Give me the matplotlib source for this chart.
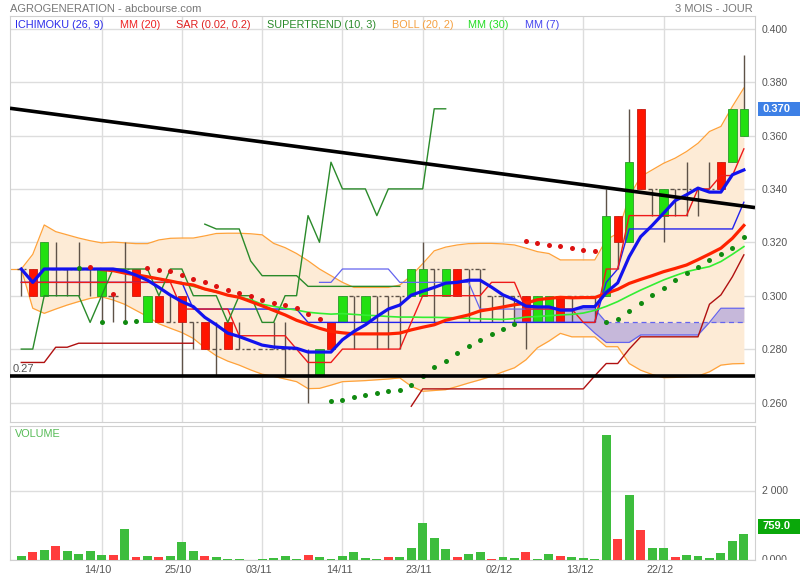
import numpy as np
import matplotlib
matplotlib.use('Agg')
import matplotlib.pyplot as plt
from matplotlib.patches import Rectangle
from matplotlib.transforms import blended_transform_factory, Bbox, TransformedBbox

plt.rcParams['font.family'] = ['Liberation Sans', 'DejaVu Sans']

# ---- values (64 daily bars) ----
x_labels = ['14/10', '25/10', '03/11', '14/11', '23/11', '02/12', '13/12', '22/12']
x_label_bars = [7, 14, 21, 28, 35, 42, 49, 56]
price_ticks = [0.26, 0.28, 0.30, 0.32, 0.34, 0.36, 0.38, 0.40]
volume_ticks = [0, 2000]
volume_tick_labels = ['0.000', '2 000']

opens = [.31, .31, .30, .31, .31, .31, .31, .30, .30, .31, .31, .29, .30, .29, .30, .29, .29, .28, .29, .28,
         .28, .28, .28, .28, .28, .27, .27, .29, .29, .30, .29, .30, .30, .30, .30, .30, .31, .30, .31, .31,
         .31, .30, .30, .30, .30, .29, .29, .30, .30, .30, .30, .30, .33, .32, .37, .34, .33, .34, .34, .34,
         .34, .35, .35, .36]
highs = [.31, .31, .32, .32, .31, .32, .31, .31, .30, .32, .31, .30, .30, .30, .30, .29, .29, .29, .29, .29,
         .28, .28, .29, .29, .28, .28, .28, .29, .30, .30, .30, .30, .30, .30, .31, .32, .31, .31, .31, .31,
         .31, .30, .30, .30, .30, .30, .30, .30, .30, .30, .30, .34, .33, .37, .37, .34, .34, .34, .35, .34,
         .35, .35, .37, .39]
lows = [.30, .30, .30, .30, .30, .30, .30, .29, .29, .29, .30, .29, .29, .29, .27, .28, .28, .27, .28, .28,
        .28, .28, .28, .27, .28, .26, .27, .28, .29, .28, .29, .28, .28, .28, .30, .30, .29, .30, .30, .29,
        .29, .29, .29, .29, .28, .29, .29, .29, .29, .30, .29, .30, .31, .32, .34, .33, .32, .33, .33, .33,
        .34, .34, .35, .36]
closes = [.31, .30, .32, .31, .31, .31, .31, .31, .30, .31, .30, .30, .29, .29, .29, .29, .28, .28, .28, .28,
          .28, .28, .28, .28, .28, .27, .28, .28, .30, .30, .30, .30, .30, .30, .31, .31, .31, .31, .30, .31,
          .31, .30, .30, .30, .29, .30, .30, .29, .30, .30, .30, .33, .32, .35, .34, .34, .34, .34, .34, .34,
          .34, .34, .37, .37]

volumes = [116, 242, 290, 406, 261, 174, 251, 145, 145, 899, 87, 106, 87, 116, 522, 261, 126, 97, 29, 29,
           10, 29, 68, 116, 39, 135, 97, 15, 126, 232, 48, 29, 87, 77, 348, 1064, 638, 319, 87, 174,
           242, 29, 87, 58, 232, 29, 184, 116, 77, 58, 39, 3626, 609, 1886, 870, 358, 358, 77, 155, 116,
           58, 203, 561, 759]
volume_dir = "grgrggggrgrgrgggrggg" + "gggggrggggggrgggggrg" + "grggrggrggggrgrggrgg" + "gggg"

N = None
mm7 = [.310, .305, .310, .310, .310, .310, .310, .310, .310, .3093, .3077, .3058, .3031, .3002, .2978, .2959,
       .2919, .2891, .2860, .2847, .2831, .2815, .2808, .2805, .2803, .2789, .2789, .2789, .2835, .2866, .2891,
       .2922, .2950, .2965, .3002, .3017, .3031, .3047, .3050, .3058, .3058, .3032, .3003, .2985, .2961, .2958,
       .2958, .2946, .2946, .2959, .2959, .3012, .3048, .3146, .3221, .3263, .3309, .3356, .3378, .3403, .3388,
       .3388, .3453, .3471]
mm20 = [N, N, N, N, N, N, N, .3098, .3094, .3085, .3078, .3071, .3063, .3055, .3046, .3040, .3025, .3015,
        .3002, .2994, .2978, .2962, .2945, .2928, .2908, .2893, .2878, .2866, .2861, .2857, .2857, .2857, .2857,
        .2860, .2872, .2882, .2891, .2908, .2918, .2928, .2943, .2950, .2958, .2966, .2972, .2985, .2990, .2994,
        .2992, .2993, .2993, .3009, .3024, .3046, .3061, .3075, .3090, .3102, .3115, .3135, .3156, .3178, .3215,
        .3263]
mm30 = [N, N, N, N, N, N, N, .3098, .3094, .3085, .3078, .3071, .3063, .3055, .3046, .3035, .3024, .3013,
        .3003, .2995, .2985, .2968, .2960, .2953, .2946, .2938, .2934, .2931, .2933, .2930, .2927, .2925, .2922,
        .2920, .2920, .2919, .2919, .2918, .2917, .2915, .2913, .2912, .2911, .2914, .2920, .2922, .2925, .2928,
        .2930, .2935, .2945, .2960, .2978, .3000, .3021, .3040, .3059, .3075, .3090, .3100, .3109, .3128, .3155,
        .3184]
boll_up = [.3100, .3155, .3265, .3240, .3228, .3216, .3206, .3198, .3201, .3198, .3195, .3195, .3209, .3215,
           .3216, .3216, .3224, .3233, .3234, .3234, .3232, .3228, .3196, .3180, .3158, .3131, .3100, .3075,
           .3050, .3031, .3031, .3031, .3031, .3040, .3075, .3120, .3168, .3182, .3190, .3195, .3196, .3196,
           .3194, .3190, .3178, .3165, .3158, .3134, .3134, .3134, .3134, .3209, .3234, .3371, .3446, .3471,
           .3496, .3515, .3540, .3571, .3615, .3634, .3709, .3778]
boll_low = [.3100, .2953, .2934, .2950, .2965, .2978, .2990, .2996, .2984, .2968, .2945, .2922, .2895, .2878,
            .2862, .2840, .2805, .2775, .2755, .2740, .2722, .2706, .2698, .2688, .2678, .2652, .2653, .2665,
            .2678, .2680, .2682, .2685, .2688, .2692, .2661, .2642, .2645, .2648, .2660, .2673, .2685, .2698,
            .2715, .2730, .2760, .2805, .2830, .2859, .2846, .2846, .2846, .2809, .2809, .2746, .2721, .2705,
            .2693, .2694, .2696, .2699, .2715, .2740, .2745, .2746]

# ichimoku
tenkan = [.305] * 14 + [.295] * 5 + [.285] * 5 + [.28, .275, .275, .275] + [.28] * 6 + [.29] + [.30] * 6 \
    + [.305] * 3 + [.295] * 5 + [.29, .29, .31, .31] + [.33] * 6 + [.34, .34, .345, .345, .355]
kijun = [.305] * 15 + [.295] * 10 + [.29] * 26 + [.305, .31] + [.325] * 10 + [.335]
senkou_a = [N] * 26 + [.305, .305] + [.31] * 5 + [.305] * 7 + [.295] * 11 + [.29] * 13
senkou_b = [N] * 43 + [.29] * 7 + [.286, .2825, .2825, .2825] + [.2853] * 6 + [.29, .2953, .2953, .2953]
chikou = [.28, .28, .30, .30, .30, .30, .29, .30, .31, .31, .31, .31, .30, .31, .31, .30, .30, .30, .29, .30,
          .30, .29, .29, .30, .30, .33, .32, .35, .34, .34, .34, .33, .34, .34, .34, .34, .37, .37] + [N] * 26

# supertrend (green above price, dark red below)
st_high = [N] * 16 + [.3268, .325, .325, .325, .313, .3075, .3075, .3075, .3075] + [.3035] * 9 + [N] * 30
st_low = [.275, .275, .275, .2807, .2807] + [.2822] * 11 + [N] * 18 + [.2586] + [.2651] * 15 \
    + [.270, .2746, .2746, .280] + [.2846] * 6 + [.2968, .3003, .3071, .3153]

sar = [N, N, N, N, N, .3102, .3108, .2903, .3005, .2903, .2907, .3102, .3098, .3094, .3079, .3061, .3052,
       .3037, .3022, .3011, .2999, .2985, .2974, .2966, .2955, .2931, .2913, .2605, .2611, .2620, .2627, .2634,
       .2642, .2648, .2667, .2700, .2732, .2756, .2787, .2810, .2835, .2857, .2876, .2895, .3205, .3198, .3190,
       .3187, .3180, .3173, .3168, .2903, .2911, .2944, .2974, .3003, .3028, .3059, .3086, .3109, .3134, .3156,
       .3180, .3221]
sar_dir = "-----grgrggrrrrrrrrrrrrrrrrggggggggggggggggg" + "rrrrrrr" + "ggggggggggggg"

trend_x = [-0.985, 63.97]
trend_y = [0.3702, 0.3330]
support_level = 0.27


def arr(v):
    return np.array([np.nan if a is None else a for a in v], dtype=float)


bars = np.arange(len(closes))

fig = plt.figure(figsize=(8, 5.8), dpi=100)
ax = fig.add_axes([10 / 800, 1 - 421.7 / 580, 745 / 800, 405.7 / 580])
axv = fig.add_axes([10 / 800, 1 - 560 / 580, 745 / 800, 134.3 / 580])

grid_c = '#dddddd'
for a in (ax, axv):
    a.set_xlim(-0.985, 63.97)
    a.set_xticks(x_label_bars)
    a.grid(True, color=grid_c, lw=1)
    a.set_axisbelow(True)
    for s in a.spines.values():
        s.set_color('#d0d0d0')
    a.tick_params(length=0, labelsize=7.6, labelcolor='#555555')
    a.yaxis.tick_right()
ax.set_xticklabels([])
axv.set_xticklabels([])

ax.set_ylim(0.25281, 0.40476)
ax.set_yticks(price_ticks)
ax.set_yticklabels(['%.3f' % p for p in price_ticks])
ax.tick_params(axis='y', pad=5)

# bollinger band
ax.fill_between(bars, arr(boll_low), arr(boll_up), color='#fdebd6', lw=0, zorder=1)
ax.plot(bars, arr(boll_up), color='#ffa23a', lw=0.9, zorder=2)
ax.plot(bars, arr(boll_low), color='#ffa23a', lw=0.9, zorder=2)
ax.plot([-0.985, 0], [boll_up[0], boll_up[0]], color='#ffa23a', lw=0.9, zorder=2)

# ichimoku cloud
sa, sb = arr(senkou_a), arr(senkou_b)
ax.fill_between(bars[43:], sa[43:], sb[43:], color='#b9acdc', alpha=0.8, lw=0, zorder=2)
ax.plot(bars[:52], sa[:52], color='#6464ee', lw=0.9, zorder=4)
ax.plot(bars[51:], sa[51:], color='#6464ee', lw=0.9, ls=(0, (4, 3)), zorder=4)
ax.plot(bars, sb, color='#6464ee', lw=0.9, zorder=4)

# candles
wick_c = '#5e5248'
for i in bars:
    o, h, l, c = opens[i], highs[i], lows[i], closes[i]
    if h > l:
        ax.vlines(i, l, h, color=wick_c, lw=1, zorder=3)
    if c != o:
        up = c > o
        ax.add_patch(Rectangle((i - 0.36, min(o, c)), 0.72, abs(c - o),
                               facecolor='#22e011' if up else '#ff1400',
                               edgecolor='#2a9a2a' if up else '#c81a10', lw=0.6, zorder=3))
    else:
        ax.hlines(o, i - 0.4, i + 0.4, color=wick_c, lw=1, linestyles=(0, (3, 2)), zorder=3)

# ichimoku lines, supertrend, moving averages
ax.plot(bars, arr(kijun), color='#2222ee', lw=1, zorder=4)
ax.plot(bars, arr(tenkan), color='#ee1a1a', lw=1, zorder=4)
ax.plot(bars, arr(chikou), color='#2a8a2a', lw=1, zorder=4)
ax.plot(bars, arr(st_high), color='#2a8a2a', lw=1, zorder=4)
ax.plot(bars, arr(st_low), color='#b01010', lw=1, zorder=4)
ax.plot(bars, arr(mm30), color='#33ee33', lw=1.2, zorder=5)
ax.plot(bars, arr(mm20), color='#ff2200', lw=2.3, zorder=5)
ax.plot(bars, arr(mm7), color='#1212ee', lw=2.3, zorder=6)

# parabolic sar
sv = arr(sar)
for col, key in (('#118a11', 'g'), ('#dd1111', 'r')):
    idx = [i for i in bars if sar_dir[i] == key]
    ax.plot(bars[idx], sv[idx], 'o', color=col, ms=3.6, mew=0, zorder=7)

# trend lines
ax.plot(trend_x, trend_y, color='black', lw=2.6, solid_capstyle='butt', zorder=8)
ax.axhline(support_level, color='black', lw=2.6, zorder=8)
ax.text(-0.75, support_level + 0.0008, '0.27', color='#555555', fontsize=8, va='bottom', ha='left', zorder=9)

# last close tag
tr = blended_transform_factory(ax.transAxes, ax.transData)
ax.add_patch(Rectangle((1.004, closes[-1] - 0.0027), 0.06, 0.0054, transform=tr,
                       facecolor='#3d80e6', edgecolor='none', clip_on=False, zorder=9))
ax.text(1.01, closes[-1], '%.3f' % closes[-1], transform=tr, color='white', fontsize=8,
        fontweight='bold', va='center', ha='left', zorder=10)

# volume panel
vol_top = 3893
axv.set_ylim(0, vol_top)
axv.set_yticks(volume_ticks)
axv.set_yticklabels([])
vcol = ['#3dbd3d' if d == 'g' else '#ff3c3c' for d in volume_dir]
axv.bar(bars, volumes, width=0.78, color=vcol, zorder=3)
trv = blended_transform_factory(axv.transAxes, axv.transData)
# right-hand labels, cut at the bottom of the panel like the original
label_box = TransformedBbox(Bbox([[755 / 800, 20 / 580], [1.0, 154.3 / 580]]), fig.transFigure)
for v, lab in zip(volume_ticks, volume_tick_labels):
    t = axv.text(1.009, v, lab, transform=trv, color='#555555', fontsize=7.6, va='center', ha='left',
                 clip_on=True)
    t.set_clip_box(label_box)
axv.add_patch(Rectangle((1.004, volumes[-1]), 0.06, 435, transform=trv,
                        facecolor='#0aa80a', edgecolor='none', clip_on=False, zorder=9))
axv.text(1.01, volumes[-1] + 217, '%.1f' % volumes[-1], transform=trv, color='white', fontsize=8,
         fontweight='bold', va='center', ha='left', zorder=10)
trx = blended_transform_factory(axv.transData, axv.transAxes)
for b, lab in zip(x_label_bars, x_labels):
    axv.text(b - 0.3, -0.075, lab, transform=trx, color='#555555', fontsize=7.8, ha='center', va='center')

# header and legend
fig.text(10 / 800, 1 - 8.5 / 580, 'AGROGENERATION - abcbourse.com', color='#777777', fontsize=8, va='center')
fig.text(753 / 800, 1 - 8.5 / 580, '3 MOIS - JOUR', color='#777777', fontsize=8, va='center', ha='right')
legend = [('ICHIMOKU (26, 9)', '#2b2bea', 15), ('MM (20)', '#ee2222', 120), ('SAR (0.02, 0.2)', '#e02020', 176),
          ('SUPERTREND (10, 3)', '#2a8a2a', 267), ('BOLL (20, 2)', '#f5a040', 392), ('MM (30)', '#22dd22', 468),
          ('MM (7)', '#4444ee', 525)]
for txt, col, px in legend:
    fig.text(px / 800, 1 - 25 / 580, txt, color=col, fontsize=7.8, va='center')
fig.text(15 / 800, 1 - 434 / 580, 'VOLUME', color='#55bb55', fontsize=7.8, va='center')

fig.savefig('out.png', dpi=100)
